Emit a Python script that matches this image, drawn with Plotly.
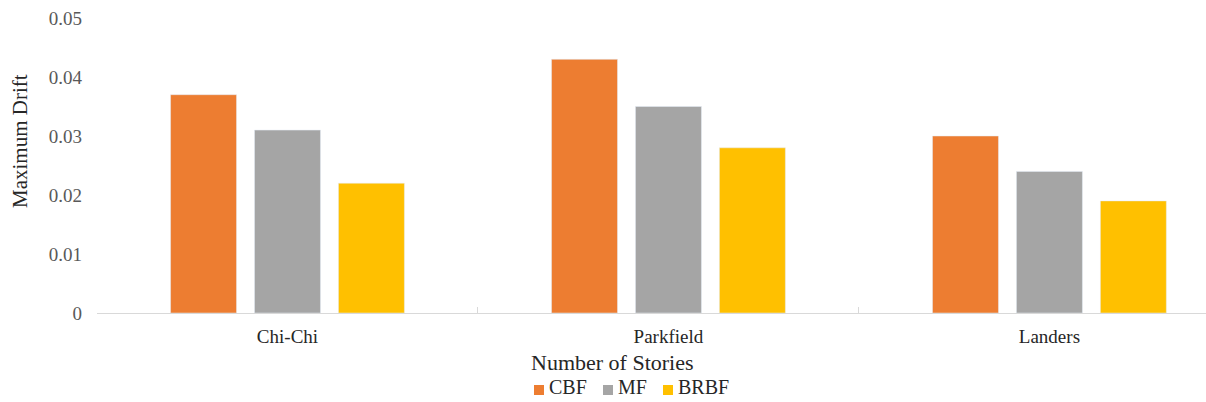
import plotly.graph_objects as go

# Earthquake records and maximum drift per framing system
records = ["Chi-Chi", "Parkfield", "Landers"]
cbf = [0.037, 0.043, 0.030]
mf = [0.031, 0.035, 0.024]
brbf = [0.022, 0.028, 0.019]

series_names = ["CBF", "MF", "BRBF"]
series_colors = ["#ED7D31", "#A5A5A5", "#FFC000"]

y_ticks = [0, 0.01, 0.02, 0.03, 0.04, 0.05]
y_tick_text = ["0", "0.01", "0.02", "0.03", "0.04", "0.05"]

FONT = "Times New Roman"
W, H = 1206, 402
ML, MR, MT, MB = 97, 0, 18, 89
PLOT_W = W - ML - MR
PLOT_H = H - MT - MB


def px_to_paper_x(px):
    return (px - ML) / PLOT_W


def px_to_paper_y(py):
    return (H - MB - py) / PLOT_H


fig = go.Figure()
for name, color, values in zip(series_names, series_colors, [cbf, mf, brbf]):
    fig.add_trace(go.Bar(name=name, x=records, y=values, marker_color=color,
                         showlegend=False))

# Compact legend row under the axis title: key square followed by its label
legend_key_left = [534, 603, 663]
legend_key_size = 10
legend_key_y = 390
legend_text_y = 387
shapes = []
annotations = []
for name, color, left in zip(series_names, series_colors, legend_key_left):
    shapes.append(dict(
        type="rect", xref="paper", yref="paper",
        x0=px_to_paper_x(left), x1=px_to_paper_x(left + legend_key_size),
        y0=px_to_paper_y(legend_key_y + legend_key_size / 2),
        y1=px_to_paper_y(legend_key_y - legend_key_size / 2),
        fillcolor=color, line=dict(width=0),
    ))
    annotations.append(dict(
        text=name, xref="paper", yref="paper",
        x=px_to_paper_x(left + legend_key_size + 3), y=px_to_paper_y(legend_text_y),
        xanchor="left", yanchor="middle", showarrow=False,
        font=dict(size=20, color="#262626", family=FONT),
    ))

annotations += [
    dict(
        text="Number of Stories",
        xref="paper", yref="paper",
        x=px_to_paper_x(612), y=px_to_paper_y(362),
        xanchor="center", yanchor="middle",
        showarrow=False,
        font=dict(size=22, color="#262626", family=FONT),
    ),
    dict(
        text="Maximum Drift",
        xref="paper", yref="paper",
        x=px_to_paper_x(20), y=px_to_paper_y(141),
        xanchor="center", yanchor="middle",
        textangle=-90,
        showarrow=False,
        font=dict(size=21, color="#262626", family=FONT),
    ),
]

fig.update_layout(
    width=W,
    height=H,
    margin=dict(l=ML, r=MR, t=MT, b=MB, autoexpand=False),
    paper_bgcolor="white",
    plot_bgcolor="white",
    barmode="group",
    bargap=0.339,
    bargroupgap=0.214,
    font=dict(family=FONT, color="#262626"),
    showlegend=False,
    xaxis=dict(
        range=[-0.5, 2.411],
        showline=True,
        linecolor="#D9D9D9",
        linewidth=1,
        ticks="inside",
        tickson="boundaries",
        ticklen=6,
        tickcolor="#D9D9D9",
        showgrid=False,
        tickfont=dict(size=19, color="#262626", family=FONT),
        ticklabelstandoff=6,
    ),
    yaxis=dict(
        range=[0, 0.05],
        tickvals=y_ticks,
        ticktext=y_tick_text,
        showgrid=False,
        zeroline=False,
        showline=False,
        tickfont=dict(size=19, color="#595959", family=FONT),
        ticklabelstandoff=14,
    ),
    shapes=shapes,
    annotations=annotations,
)

fig.write_html("out.html")
